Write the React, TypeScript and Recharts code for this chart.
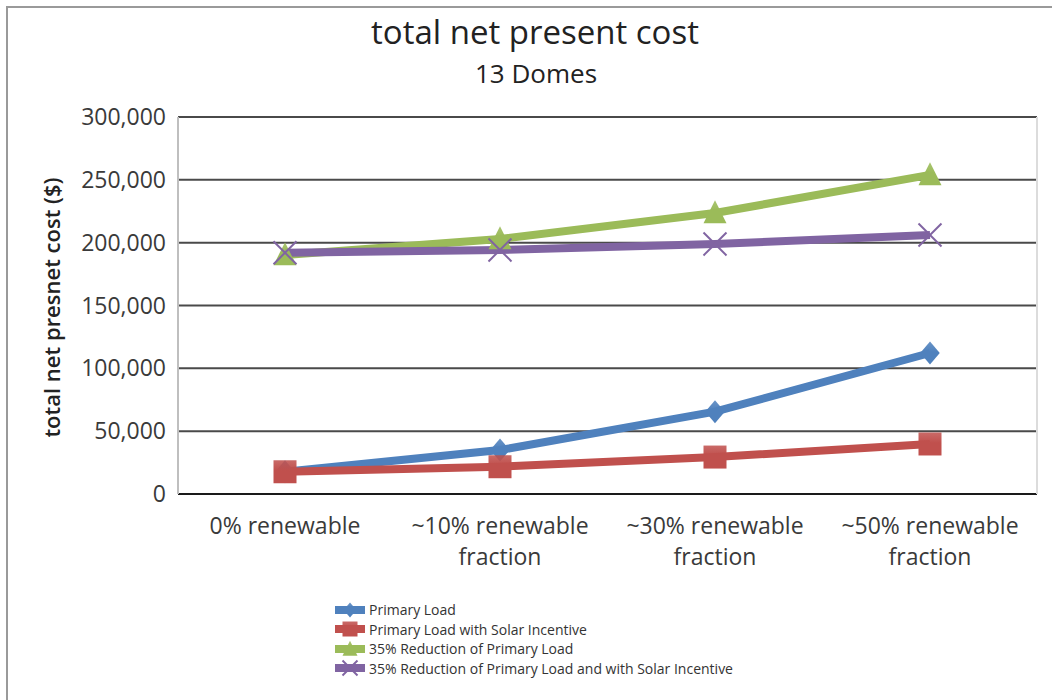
import React from "react";
import { LineChart, Line, XAxis, YAxis, CartesianGrid, Legend } from "recharts";

const categories = [
  "0% renewable",
  "~10% renewable fraction",
  "~30% renewable fraction",
  "~50% renewable fraction",
];
const primaryLoad = [17700, 35000, 65500, 112200];
const primaryLoadSolar = [17700, 21700, 29400, 39800];
const reducedLoad = [190200, 202900, 223600, 253900];
const reducedLoadSolar = [192000, 194200, 199000, 206100];
const yTicks = [0, 50000, 100000, 150000, 200000, 250000, 300000];

const seriesNames = [
  "Primary Load",
  "Primary Load with Solar Incentive",
  "35% Reduction of Primary Load",
  "35% Reduction of Primary Load and with Solar Incentive",
];
const seriesColors = ["#4F81BD", "#C0504D", "#9BBB59", "#8064A2"];
const markerKinds = ["diamond", "square", "triangle", "x"];

const data = categories.map((c, i) => ({
  category: c,
  s0: primaryLoad[i],
  s1: primaryLoadSolar[i],
  s2: reducedLoad[i],
  s3: reducedLoadSolar[i],
}));

const FONT = "'Open Sans', 'DejaVu Sans', sans-serif";

function Marker({ kind, cx, cy, r, color, gid }: any) {
  if (cx == null || cy == null) return null;
  const fill = `url(#${gid})`;
  if (kind === "diamond") {
    return (
      <polygon
        points={`${cx},${cy - r} ${cx + r * 0.85},${cy} ${cx},${cy + r} ${cx - r * 0.85},${cy}`}
        fill={fill}
      />
    );
  }
  if (kind === "square") {
    return <rect x={cx - r} y={cy - r} width={2 * r} height={2 * r} fill={fill} />;
  }
  if (kind === "triangle") {
    return (
      <polygon
        points={`${cx},${cy - r * 1.1} ${cx + r},${cy + r * 0.9} ${cx - r},${cy + r * 0.9}`}
        fill={fill}
      />
    );
  }
  return (
    <g stroke={color} strokeWidth={2}>
      <line x1={cx - r} y1={cy - r} x2={cx + r} y2={cy + r} />
      <line x1={cx - r} y1={cy + r} x2={cx + r} y2={cy - r} />
    </g>
  );
}

function CategoryTick({ x, y, payload }: any) {
  const words: string[] = String(payload.value).split(" ");
  const lines =
    words.length > 2 ? [words.slice(0, 2).join(" "), words.slice(2).join(" ")] : [words.join(" ")];
  return (
    <text x={x} y={y} textAnchor="middle" fontFamily={FONT} fontSize={23} fill="#3a3a3a">
      {lines.map((l, i) => (
        <tspan key={i} x={x} dy={i === 0 ? 32 : 31}>
          {l}
        </tspan>
      ))}
    </text>
  );
}

function YTitle({ viewBox }: any) {
  const x = viewBox.x + 51;
  const y = viewBox.y + viewBox.height / 2 + 2;
  return (
    <text
      x={x}
      y={y}
      transform={`rotate(-90 ${x} ${y})`}
      textAnchor="middle"
      dominantBaseline="central"
      fontFamily={FONT}
      fontSize={22}
      fontWeight={600}
      fill="#222"
    >
      total net presnet cost ($)
    </text>
  );
}

function LegendBox() {
  return (
    <div style={{ fontFamily: FONT, fontSize: 14, color: "#333" }}>
      {seriesNames.map((n, i) => (
        <div key={n} style={{ display: "flex", alignItems: "center", height: 19.5 }}>
          <svg width={32} height={18} style={{ marginRight: 3 }}>
            <line x1={1} y1={9} x2={31} y2={9} stroke={seriesColors[i]} strokeWidth={8} />
            <Marker kind={markerKinds[i]} cx={16} cy={9} r={7.5} color={seriesColors[i]} gid={`g${i}`} />
          </svg>
          <span>{n}</span>
        </div>
      ))}
    </div>
  );
}

export default function App() {
  return (
    <div
      style={{
        position: "fixed",
        left: 0,
        top: 0,
        width: 1052,
        height: 700,
        overflow: "hidden",
        background: "#fff",
      }}
    >
      <div
        style={{
          position: "absolute",
          left: 0,
          width: 1070,
          top: 10,
          textAlign: "center",
          fontFamily: FONT,
          fontSize: 33,
          color: "#222",
          lineHeight: "44px",
        }}
      >
        total net present cost
      </div>
      <div
        style={{
          position: "absolute",
          left: 0,
          width: 1072,
          top: 56,
          textAlign: "center",
          fontFamily: FONT,
          fontSize: 26,
          color: "#222",
          lineHeight: "34px",
        }}
      >
        13 Domes
      </div>
      <div style={{ position: "absolute", left: 0, top: 0 }}>
        <LineChart
          width={1052}
          height={700}
          data={data}
          margin={{ top: 117, right: 0, left: 0, bottom: 106 }}
        >
          <defs>
            {seriesColors.map((c, i) => (
              <linearGradient key={c} id={`g${i}`} x1="0" y1="0" x2="0" y2="1">
                <stop offset="0%" stopColor={c} stopOpacity={0.85} />
                <stop offset="45%" stopColor={c} />
                <stop offset="100%" stopColor={c} stopOpacity={1} />
              </linearGradient>
            ))}
          </defs>
          <CartesianGrid vertical={false} stroke="#4a4a4a" strokeWidth={2} yAxisId="left" />
          <XAxis
            dataKey="category"
            interval={0}
            padding={{ left: 107, right: 107 }}
            axisLine={{ stroke: "#1a1a1a", strokeWidth: 2 }}
            tickLine={false}
            height={100}
            tick={<CategoryTick />}
          />
          <YAxis
            yAxisId="left"
            width={178}
            domain={[0, 300000]}
            ticks={yTicks}
            interval={0}
            tickFormatter={(v: number) => v.toLocaleString("en-US")}
            axisLine={{ stroke: "#bfbfbf", strokeWidth: 2 }}
            tickLine={false}
            tickMargin={6}
            tick={{ fontFamily: FONT, fontSize: 23, fill: "#3a3a3a" }}
            label={<YTitle />}
          />
          <YAxis
            yAxisId="right"
            orientation="right"
            width={15}
            domain={[0, 300000]}
            tick={false}
            tickLine={false}
            axisLine={{ stroke: "#dcdcdc", strokeWidth: 2 }}
          />
          {seriesColors.map((c, i) => (
            <Line
              key={c}
              yAxisId="left"
              dataKey={`s${i}`}
              name={seriesNames[i]}
              stroke={c}
              strokeWidth={8}
              type="linear"
              isAnimationActive={false}
              dot={(p: any) => (
                <Marker
                  key={`${i}-${p.index}`}
                  kind={markerKinds[i]}
                  cx={p.cx}
                  cy={p.cy}
                  r={11.5}
                  color={c}
                  gid={`g${i}`}
                />
              )}
            />
          ))}
          <Legend
            layout="vertical"
            align="center"
            verticalAlign="middle"
            content={<LegendBox />}
            wrapperStyle={{ left: 334, top: 600, width: 460, height: 80 }}
          />
        </LineChart>
      </div>
      {/* outer frame: left and top edges */}
      <div
        style={{
          position: "absolute",
          left: 6,
          top: 6,
          width: 1100,
          height: 800,
          borderLeft: "2px solid #9a9a9a",
          borderTop: "2px solid #9a9a9a",
          boxSizing: "border-box",
          pointerEvents: "none",
          zIndex: 10,
        }}
      />
    </div>
  );
}
